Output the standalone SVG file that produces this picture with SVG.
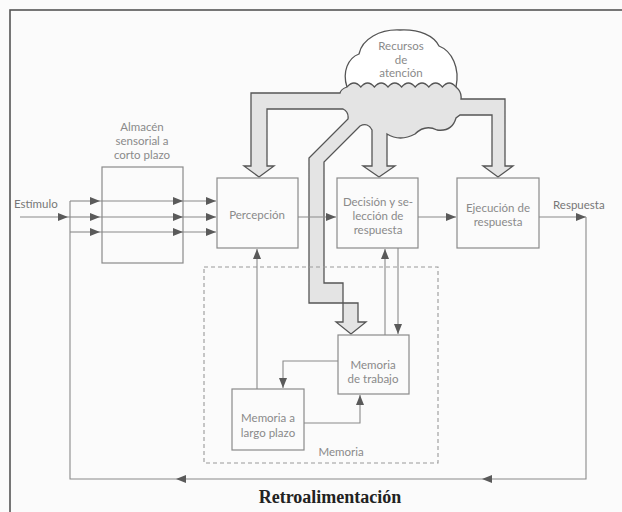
<svg xmlns="http://www.w3.org/2000/svg" width="622" height="512" viewBox="0 0 622 512">
<style>
.box{fill:none;stroke:#8a8a8a;stroke-width:1.2}
.lbl{font-family:Lato,"Open Sans","Liberation Sans",sans-serif;font-size:11.5px;fill:#8a8a8a;text-anchor:middle}
.out{font-family:Lato,"Open Sans","Liberation Sans",sans-serif;font-size:11.5px;fill:#777}
.ln{fill:none;stroke:#8a8a8a;stroke-width:1.1}
.big{fill:#e4e4e4;stroke:#555;stroke-width:1.3;stroke-linejoin:miter}
</style>
<defs>
<marker id="ah" markerUnits="userSpaceOnUse" markerWidth="11" markerHeight="8" refX="10" refY="4" orient="auto">
<path d="M0,0 L10,4 L0,8 z" fill="#5a5a5a"/>
</marker>
</defs>
<rect x="0" y="0" width="622" height="512" fill="#fbfbfb"/>
<rect x="10" y="10" width="640" height="530" fill="none" stroke="#555" stroke-width="1.6"/>

<g id="attention-resources">
<path d="M347,87 C342,72 348,58 359,54 C362,39 380,29 400,30 C420,29 434,36 439,46 C452,51 460,68 456,87" fill="#fff" stroke="#555" stroke-width="1.3"/>
<path class="big" d="M347,87 Q341,89 340,93 H251 V166 H244 L259,177 L274,166 H267 V109 H343 Q349,112 348,119 L309,158 V303 H358 V322 H366 L351,334 L336,322 H343 V283 H324 V162 L360,126 Q368,122 372,130 V166 H363 L379,177 L395,166 H387 V134 Q400,142 415,134 Q425,124 437,130 Q452,132 456,118 L460,115 H492 V166 H483 L498,177 L513,166 H505 V99 H461 Q462,92 456,87 Q449.2,79 442.4,87 Q435.6,79 428.8,87 Q422,79 415.2,87 Q408.4,79 401.6,87 Q394.8,79 388,87 Q381.2,79 374.4,87 Q367.6,79 360.8,87 Q354,79 347,87 Z"/>
<text class="lbl" x="401" y="50">Recursos</text>
<text class="lbl" x="401" y="64">de</text>
<text class="lbl" x="401" y="77">atención</text>
</g>

<g id="sensory-store">
<rect class="box" x="102" y="167" width="81" height="96"/>
<text class="lbl" x="142" y="131">Almacén</text>
<text class="lbl" x="142" y="145">sensorial a</text>
<text class="lbl" x="142" y="159">corto plazo</text>
</g>

<g id="perception">
<rect class="box" x="217" y="178" width="81" height="70"/>
<text class="lbl" x="257" y="219">Percepción</text>
</g>

<g id="decision">
<rect class="box" x="337" y="178" width="81" height="70"/>
<text class="lbl" x="378" y="206">Decisión y se-</text>
<text class="lbl" x="378" y="220">lección de</text>
<text class="lbl" x="378" y="234">respuesta</text>
</g>

<g id="execution">
<rect class="box" x="457" y="178" width="82" height="70"/>
<text class="lbl" x="498" y="212">Ejecución de</text>
<text class="lbl" x="498" y="226">respuesta</text>
</g>

<g id="memory">
<rect x="204" y="267" width="234" height="196" fill="none" stroke="#9a9a9a" stroke-width="1.1" stroke-dasharray="4 3"/>
<text class="lbl" x="341" y="456">Memoria</text>
</g>

<g id="working-memory">
<rect class="box" x="338" y="335" width="71" height="59"/>
<text class="lbl" x="373" y="369">Memoria</text>
<text class="lbl" x="373" y="383">de trabajo</text>
</g>

<g id="long-term-memory">
<rect class="box" x="232" y="389" width="72" height="61"/>
<text class="lbl" x="268" y="422">Memoria a</text>
<text class="lbl" x="268" y="437">largo plazo</text>
</g>

<g id="labels">
<text class="out" x="14" y="208">Estímulo</text>
<text class="out" x="553" y="209">Respuesta</text>
<text x="330" y="503" font-family="'Liberation Serif',serif" font-size="18" font-weight="bold" fill="#222" text-anchor="middle">Retroalimentación</text>
</g>

<g id="connectors">
<path class="ln" d="M20,217 H68" marker-end="url(#ah)"/>
<path class="ln" d="M70,201 H100" marker-end="url(#ah)"/>
<path class="ln" d="M68,217 H100" marker-end="url(#ah)"/>
<path class="ln" d="M70,232 H100" marker-end="url(#ah)"/>
<path class="ln" d="M100,201 H183" marker-end="url(#ah)"/>
<path class="ln" d="M100,217 H183" marker-end="url(#ah)"/>
<path class="ln" d="M100,232 H183" marker-end="url(#ah)"/>
<path class="ln" d="M183,201 H216" marker-end="url(#ah)"/>
<path class="ln" d="M183,217 H216" marker-end="url(#ah)"/>
<path class="ln" d="M183,232 H216" marker-end="url(#ah)"/>
<path class="ln" d="M298,217 H336" marker-end="url(#ah)"/>
<path class="ln" d="M418,217 H456" marker-end="url(#ah)"/>
<path class="ln" d="M539,217 H586" marker-end="url(#ah)"/>
<path class="ln" d="M586,217 V479 H482" marker-end="url(#ah)"/>
<path class="ln" d="M482,479 H176" marker-end="url(#ah)"/>
<path class="ln" d="M176,479 H70 V201"/>
<path class="ln" d="M257,389 V249" marker-end="url(#ah)"/>
<path class="ln" d="M385,335 V249" marker-end="url(#ah)"/>
<path class="ln" d="M398,248 V334" marker-end="url(#ah)"/>
<path class="ln" d="M338,361 H283 V388" marker-end="url(#ah)"/>
<path class="ln" d="M304,423 H360 V395" marker-end="url(#ah)"/>
</g>
</svg>
